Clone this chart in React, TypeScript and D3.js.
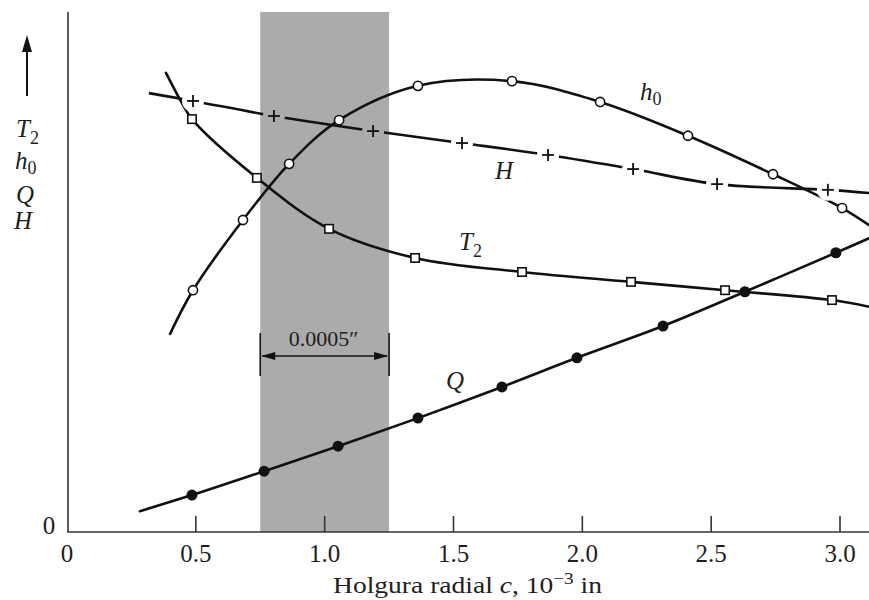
import React from 'react';
import * as d3 from 'd3';

const W = 869;
const H = 600;

// x-axis ticks
const xTickValues = [0.5, 1.0, 1.5, 2.0, 2.5, 3.0];
const xTickLabels = ['0.5', '1.0', '1.5', '2.0', '2.5', '3.0'];

// Q  (filled circles)
const qC = [0.485, 0.765, 1.052, 1.362, 1.688, 1.979, 2.313, 2.631, 2.984];
const qV = [7.1, 11.7, 16.5, 21.9, 27.9, 33.5, 39.6, 46.2, 53.7];
const qLineC = [0.283, 0.485, 0.765, 1.052, 1.362, 1.688, 1.979, 2.313, 2.631, 2.984, 3.113];
const qLineV = [4.0, 7.1, 11.7, 16.5, 21.9, 27.9, 33.5, 39.6, 46.2, 53.7, 56.5];

// h0 (open circles)
const h0C = [0.489, 0.683, 0.862, 1.056, 1.362, 1.727, 2.069, 2.41, 2.74, 3.008];
const h0V = [46.5, 60.0, 70.8, 79.2, 85.8, 86.7, 82.7, 76.2, 68.8, 62.3];
const h0LineC = [0.4, 0.489, 0.683, 0.862, 1.056, 1.362, 1.727, 2.069, 2.41, 2.74, 3.008, 3.113];
const h0LineV = [38.1, 46.5, 60.0, 70.8, 79.2, 85.8, 86.7, 82.7, 76.2, 68.8, 62.3, 59.0];

// T2 (open squares)
const t2C = [0.485, 0.737, 1.017, 1.351, 1.766, 2.189, 2.554, 2.969];
const t2V = [79.4, 68.1, 58.3, 52.7, 50.0, 48.1, 46.5, 44.6];
const t2LineC = [0.384, 0.446, 0.485, 0.737, 1.017, 1.351, 1.766, 2.189, 2.554, 2.969, 3.113];
const t2LineV = [88.3, 82.5, 79.4, 68.1, 58.3, 52.7, 50.0, 48.1, 46.5, 44.6, 43.3];

// H (plus markers, dashed)
const hC = [0.489, 0.803, 1.188, 1.533, 1.867, 2.197, 2.523, 2.953];
const hV = [82.9, 80.0, 77.1, 74.8, 72.5, 69.8, 66.9, 65.8];
const hLineC = [0.318, 0.489, 0.803, 1.188, 1.533, 1.867, 2.197, 2.523, 2.953, 3.113];
const hLineV = [84.4, 82.9, 80.0, 77.1, 74.8, 72.5, 69.8, 66.9, 65.8, 65.2];

// shaded clearance band
const bandC = [0.75, 1.25];

export default function App() {
  const x = d3.scaleLinear().domain([0, 3]).range([67, 840]);
  const y = d3.scaleLinear().domain([0, 100]).range([532, 12]);

  const line = d3
    .line<[number, number]>()
    .x((d) => x(d[0]))
    .y((d) => y(d[1]))
    .curve(d3.curveCatmullRom.alpha(0.5));

  const zip = (a: number[], b: number[]) => a.map((v, i) => [v, b[i]] as [number, number]);

  const serif = "'Liberation Serif', 'Times New Roman', Times, serif";
  const ink = '#111';
  const txt = '#1e1e1e';
  const bx0 = x(bandC[0]);
  const bx1 = x(bandC[1]);
  const dimY = 356;

  return (
    <svg
      width={W}
      height={H}
      style={{ position: 'absolute', left: 0, top: 0, background: '#fff', fontFamily: serif }}
    >
      <defs>
        <mask id="plusGap">
          <rect x={0} y={0} width={W} height={H} fill="#fff" />
          {hC.map((c, i) => (
            <circle key={i} cx={x(c)} cy={y(hV[i])} r={11} fill="#000" />
          ))}
        </mask>
      </defs>

      {/* shaded band */}
      <rect x={bx0} y={12} width={bx1 - bx0} height={532 - 12} fill="#ababab" />

      {/* axes */}
      <line x1={68} y1={12} x2={68} y2={532} stroke="#333" strokeWidth={1.6} />
      <line x1={67} y1={532} x2={W} y2={532} stroke="#333" strokeWidth={1.6} />
      {xTickValues.map((t) => (
        <line key={t} x1={x(t)} x2={x(t)} y1={516} y2={532} stroke="#333" strokeWidth={1.6} />
      ))}
      <text x={x(0)} y={562} fontSize={25} textAnchor="middle" fill={txt}>0</text>
      {xTickValues.map((t, i) => (
        <text key={t} x={x(t)} y={562} fontSize={25} textAnchor="middle" fill={txt}>
          {xTickLabels[i]}
        </text>
      ))}
      <text x={49} y={534} fontSize={25} textAnchor="middle" fill={txt}>0</text>

      {/* axis title */}
      <text x={333} y={593} fontSize={23} fill={txt} textLength={269} lengthAdjust="spacingAndGlyphs">
        Holgura radial <tspan fontStyle="italic">c</tspan>, 10
        <tspan dy={-9} fontSize={16}>−3</tspan>
        <tspan dy={9}> in</tspan>
      </text>

      {/* y label stack */}
      <line x1={27} y1={96} x2={27} y2={48} stroke={ink} strokeWidth={2} />
      <path d="M27,35 L22,52 L32,52 Z" fill={ink} />
      <g fontStyle="italic" fontSize={25} fill={txt}>
        <text x={16} y={137}>T<tspan fontStyle="normal" fontSize={18} dy={7}>2</tspan></text>
        <text x={15} y={169}>h<tspan fontStyle="normal" fontSize={18} dy={5}>0</tspan></text>
        <text x={16} y={203}>Q</text>
        <text x={14} y={229}>H</text>
      </g>

      {/* dimension annotation */}
      <line x1={bx0} x2={bx0} y1={333} y2={376} stroke={ink} strokeWidth={1.6} />
      <line x1={bx1} x2={bx1} y1={333} y2={376} stroke={ink} strokeWidth={1.6} />
      <line x1={bx0 + 2} x2={bx1 - 2} y1={dimY} y2={dimY} stroke={ink} strokeWidth={1.4} />
      <path d={`M${bx0 + 1},${dimY} l14,-4 l0,8 Z`} fill={ink} />
      <path d={`M${bx1 - 1},${dimY} l-14,-4 l0,8 Z`} fill={ink} />
      <text x={(bx0 + bx1) / 2 - 1} y={346} fontSize={22} textAnchor="middle" fill={txt}>
        0.0005″
      </text>

      {/* curves */}
      <g fill="none" stroke={ink} strokeWidth={2.6} strokeLinejoin="round" strokeLinecap="round">
        <path d={line(zip(qLineC, qLineV)) || ''} />
        <path d={line(zip(h0LineC, h0LineV)) || ''} mask="url(#plusGap)" />
        <path d={line(zip(t2LineC, t2LineV)) || ''} mask="url(#plusGap)" />
        <path d={line(zip(hLineC, hLineV)) || ''} mask="url(#plusGap)" strokeLinecap="butt" />
      </g>

      {/* markers */}
      {qC.map((c, i) => (
        <circle key={'q' + i} cx={x(c)} cy={y(qV[i])} r={5.5} fill={ink} />
      ))}
      {h0C.map((c, i) => (
        <circle key={'h' + i} cx={x(c)} cy={y(h0V[i])} r={4.6} fill="#fff" stroke={ink} strokeWidth={1.6} />
      ))}
      {t2C.map((c, i) => (
        <rect
          key={'t' + i}
          x={x(c) - 4.2}
          y={y(t2V[i]) - 4.2}
          width={8.4}
          height={8.4}
          fill="#fff"
          stroke={ink}
          strokeWidth={1.6}
        />
      ))}
      {hC.map((c, i) => (
        <g key={'p' + i} stroke={ink} strokeWidth={1.8}>
          <line x1={x(c) - 6} x2={x(c) + 6} y1={y(hV[i])} y2={y(hV[i])} />
          <line x1={x(c)} x2={x(c)} y1={y(hV[i]) - 6} y2={y(hV[i]) + 6} />
        </g>
      ))}

      {/* curve labels */}
      <g fontStyle="italic" fontSize={25} fill={txt}>
        <text x={640} y={100}>h<tspan fontStyle="normal" fontSize={18} dy={5}>0</tspan></text>
        <text x={495} y={179}>H</text>
        <text x={459} y={250}>T<tspan fontStyle="normal" fontSize={18} dy={7}>2</tspan></text>
        <text x={446} y={389}>Q</text>
      </g>
    </svg>
  );
}
